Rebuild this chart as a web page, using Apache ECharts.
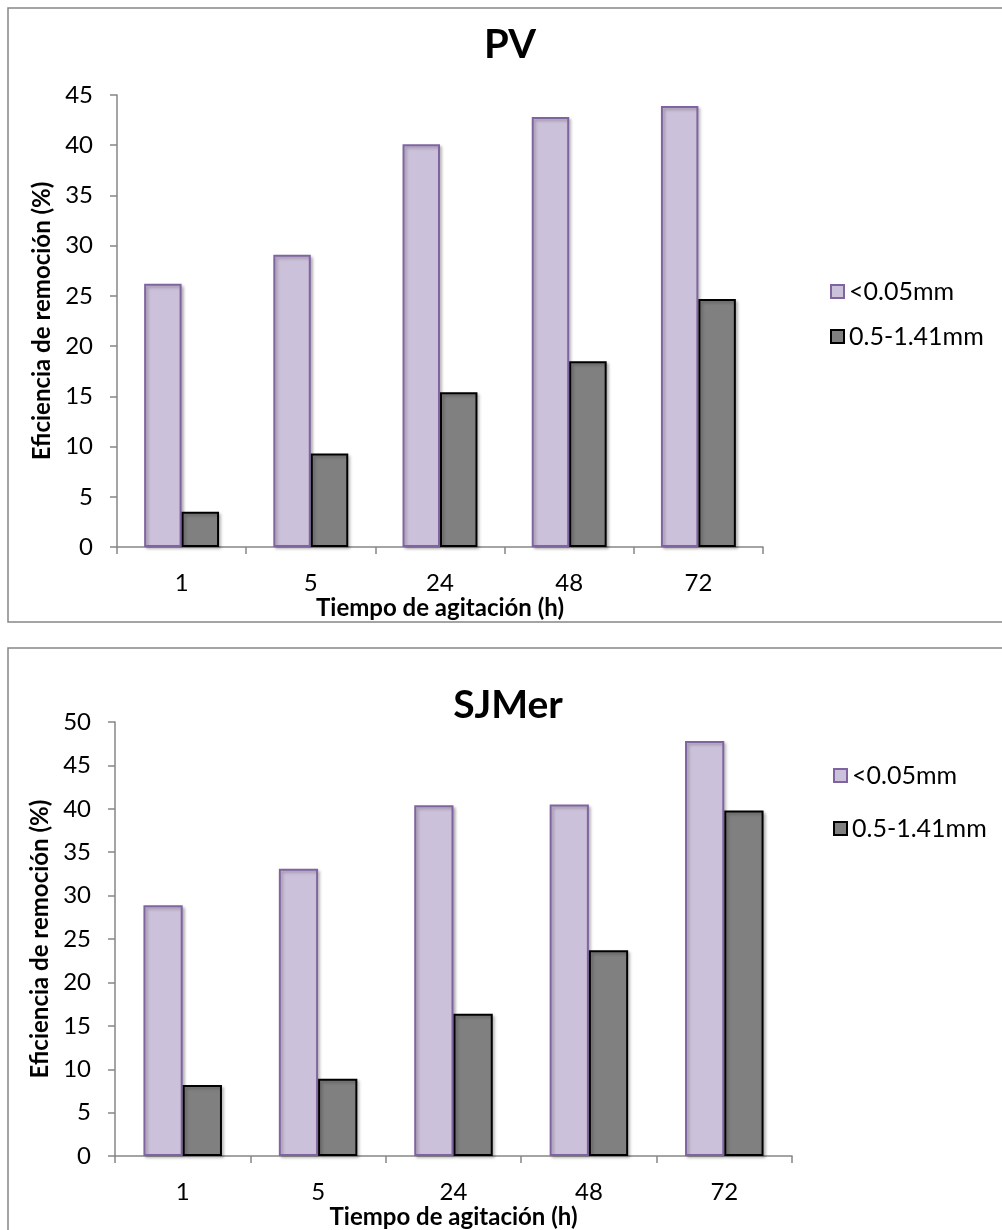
<!DOCTYPE html>
<html><head><meta charset="utf-8">
<script src="https://cdn.jsdelivr.net/npm/echarts@6/dist/echarts.min.js"></script>
<style>html,body{margin:0;padding:0;background:#fff}#c{width:1002px;height:1230px}</style>
</head><body><div id="c"></div>
<script>
const categories = ['1','5','24','48','72'];
const seriesNames = ['<0.05mm','0.5-1.41mm'];
const pvFine = [26.2, 29.1, 40.1, 42.8, 43.9];
const pvCoarse = [3.5, 9.3, 15.4, 18.5, 24.7];
const sjFine = [28.9, 33.1, 40.4, 40.5, 47.8];
const sjCoarse = [8.2, 8.9, 16.4, 23.7, 39.8];
const titles = ['PV','SJMer'];
const xTitle = 'Tiempo de agitación (h)';
const yTitle = 'Eficiencia de remoción (%)';

const FONT = 'Lato, "Open Sans", sans-serif';
const chart = echarts.init(document.getElementById('c'), null, {renderer:'canvas'});
const axisLine = {lineStyle:{color:'#868686', width:1.5}};
const fineStyle = {color:'#CCC1DA', borderColor:'#8064A2', borderWidth:2, shadowBlur:3, shadowOffsetX:2, shadowOffsetY:2, shadowColor:'rgba(0,0,0,0.25)'};
const coarseStyle = {color:'#808080', borderColor:'#000', borderWidth:2, shadowBlur:3, shadowOffsetX:2, shadowOffsetY:2, shadowColor:'rgba(0,0,0,0.25)'};

function xAx(gi){
  return {gridIndex:gi, type:'category', data:categories,
    axisLine:axisLine, axisTick:{show:true, length:7, lineStyle:{color:'#868686', width:1.5}},
    axisLabel:{color:'#000', fontSize:24, fontFamily:FONT, margin:24},
    name:xTitle, nameLocation:'middle', nameGap:46,
    nameTextStyle:{color:'#000', fontSize:24, fontWeight:'bold', fontFamily:FONT}};
}
function yAx(gi, max){
  return {gridIndex:gi, type:'value', min:0, max:max, interval:5,
    axisLine:{show:true, lineStyle:{color:'#868686', width:1.5}},
    axisTick:{show:true, length:7, lineStyle:{color:'#868686', width:1.5}},
    splitLine:{show:false},
    axisLabel:{color:'#000', fontSize:24, fontFamily:FONT, margin:24},
    name:yTitle, nameLocation:'middle', nameGap:55, nameRotate:90,
    nameTextStyle:{color:'#000', fontSize:24, fontWeight:'bold', fontFamily:FONT}};
}
function bar(name, data, gi, style){
  return {name:name, type:'bar', xAxisIndex:gi, yAxisIndex:gi, data:data,
    barGap:'0%', barCategoryGap:'42%', itemStyle:style, emphasis:{disabled:true}};
}

chart.setOption({
  animation:false,
  title:[
    {text:titles[0], left:505, top:20, textAlign:'center', textStyle:{fontSize:40, fontWeight:'bold', fontFamily:FONT, color:'#000'}},
    {text:titles[1], left:503, top:681, textAlign:'center', textStyle:{fontSize:39, fontWeight:'bold', fontFamily:FONT, color:'#000'}}
  ],
  graphic:[
    {type:'rect', shape:{x:8, y:8, width:1100, height:614}, style:{fill:'none', stroke:'#868686', lineWidth:1.5}, silent:true},
    {type:'rect', shape:{x:8, y:648, width:1100, height:600}, style:{fill:'none', stroke:'#868686', lineWidth:1.5}, silent:true}
  ],
  legend:[
    {data:seriesNames, orient:'vertical', left:830, top:279, itemWidth:13, itemHeight:13, itemGap:20, padding:0,
     textStyle:{fontSize:25, fontFamily:FONT, color:'#000', padding:[0,0,0,0]}, icon:'rect', selectedMode:false},
    {data:seriesNames, orient:'vertical', left:833, top:763, itemWidth:13, itemHeight:13, itemGap:28, padding:0,
     textStyle:{fontSize:25, fontFamily:FONT, color:'#000', padding:[0,0,0,0]}, icon:'rect', selectedMode:false}
  ],
  grid:[
    {left:117, top:95, width:646, height:452},
    {left:115, top:722, width:677, height:436}
  ],
  xAxis:[xAx(0), xAx(1)],
  yAxis:[yAx(0,45), yAx(1,50)],
  series:[
    bar(seriesNames[0], pvFine, 0, fineStyle),
    bar(seriesNames[1], pvCoarse, 0, coarseStyle),
    bar(seriesNames[0], sjFine, 1, fineStyle),
    bar(seriesNames[1], sjCoarse, 1, coarseStyle)
  ]
});
</script></body></html>
